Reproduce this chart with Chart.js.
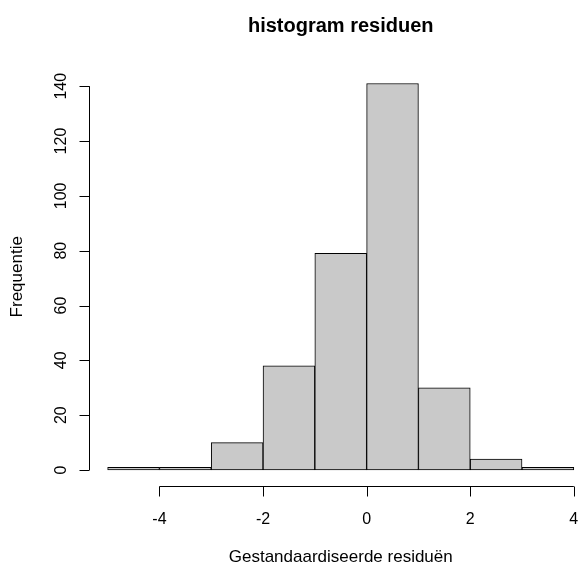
<!DOCTYPE html>
<html>
<head>
<meta charset="utf-8">
<script src="https://cdn.jsdelivr.net/npm/chart.js@4/dist/chart.umd.min.js"></script>
<style>
  html, body { margin: 0; padding: 0; background: #ffffff; }
  #wrap { width: 579px; height: 568px; }
</style>
</head>
<body>
<div id="wrap"><canvas id="histChart" width="579" height="568"></canvas></div>
<script>
// Histogram bins (lower and upper edges) and counts
const binStarts = [-5, -4, -3, -2, -1, 0, 1, 2, 3];
const binEnds   = [-4, -3, -2, -1, 0, 1, 2, 3, 4];
const counts    = [1, 1, 10, 38, 79, 141, 30, 4, 1];

const xTicks = [-4, -2, 0, 2, 4];
const yTicks = [0, 20, 40, 60, 80, 100, 120, 140];

const titleText = 'histogram residuen';
const xTitle = 'Gestandaardiseerde residuën';
const yTitle = 'Frequentie';

const FONT = '"Liberation Sans", Arial, Helvetica, sans-serif';

/**
 * Dessine les axes façon R (lignes décalées, ticks, libellés, titres)
 */
const rAxesPlugin = {
    id: 'rAxes',
    afterDraw(chart) {
        const ctx = chart.ctx;
        const xs = chart.scales.x;
        const ys = chart.scales.y;
        const area = chart.chartArea;
        const tickLen = 10;

        ctx.save();
        ctx.strokeStyle = '#000000';
        ctx.fillStyle = '#000000';
        ctx.lineWidth = 1;

        // axe x : ligne du premier au dernier tick
        const xAxisY = Math.round(area.bottom) + 0.5;
        ctx.beginPath();
        ctx.moveTo(xs.getPixelForValue(xTicks[0]), xAxisY);
        ctx.lineTo(xs.getPixelForValue(xTicks[xTicks.length - 1]), xAxisY);
        xTicks.forEach(v => {
            const px = Math.round(xs.getPixelForValue(v)) + 0.5;
            ctx.moveTo(px, xAxisY);
            ctx.lineTo(px, xAxisY + tickLen);
        });
        ctx.stroke();

        ctx.font = '16px ' + FONT;
        ctx.textAlign = 'center';
        ctx.textBaseline = 'alphabetic';
        xTicks.forEach(v => {
            ctx.fillText(String(v), xs.getPixelForValue(v), 524);
        });

        // axe y
        const yAxisX = Math.round(area.left) + 0.5;
        ctx.beginPath();
        ctx.moveTo(yAxisX, ys.getPixelForValue(yTicks[0]));
        ctx.lineTo(yAxisX, ys.getPixelForValue(yTicks[yTicks.length - 1]));
        yTicks.forEach(v => {
            const py = Math.round(ys.getPixelForValue(v)) + 0.5;
            ctx.moveTo(yAxisX, py);
            ctx.lineTo(yAxisX - tickLen, py);
        });
        ctx.stroke();

        yTicks.forEach(v => {
            ctx.save();
            ctx.translate(66, ys.getPixelForValue(v));
            ctx.rotate(-Math.PI / 2);
            ctx.fillText(String(v), 0, 0);
            ctx.restore();
        });

        // titres
        const plotCenterX = (xs.getPixelForValue(-5.36) + xs.getPixelForValue(4.36)) / 2;
        ctx.font = '17px ' + FONT;
        ctx.fillText(xTitle, plotCenterX, 562);

        ctx.save();
        ctx.translate(22, (area.top + area.bottom) / 2);
        ctx.rotate(-Math.PI / 2);
        ctx.fillText(yTitle, 0, 0);
        ctx.restore();

        ctx.font = 'bold 20px ' + FONT;
        ctx.fillText(titleText, plotCenterX, 32);

        ctx.restore();
    }
};

const canvas = document.getElementById('histChart');
const ctx = canvas.getContext('2d');

new Chart(ctx, {
    type: 'bar',
    data: {
        datasets: [{
            label: yTitle,
            // barre centrée sur le milieu de chaque classe
            data: counts.map((c, i) => ({ x: (binStarts[i] + binEnds[i]) / 2, y: c })),
            backgroundColor: '#c9c9c9',
            borderColor: '#000000',
            borderWidth: 1,
            borderSkipped: false,
            barPercentage: 1,
            categoryPercentage: 1,
            grouped: false,
        }]
    },
    options: {
        responsive: false,
        animation: false,
        events: [],
        layout: { padding: { left: 89, top: 68, right: 0, bottom: 82.5 } },
        plugins: {
            legend: { display: false },
            tooltip: { enabled: false },
            title: { display: false }
        },
        scales: {
            x: {
                type: 'linear',
                display: false,
                offset: false,
                min: -5.36,
                max: 4.1
            },
            y: {
                type: 'linear',
                display: false,
                min: -5.64,
                max: 146.64
            }
        }
    },
    plugins: [rAxesPlugin]
});
</script>
</body>
</html>
